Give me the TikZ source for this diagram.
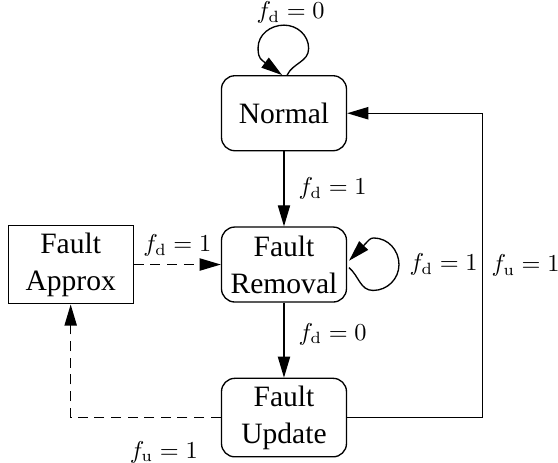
\documentclass[tikz,border=0pt]{standalone}
\usepackage{fontspec}
\newfontfamily\statefont{Liberation Serif}
\usetikzlibrary{positioning, arrows.meta}

\begin{document}
\begin{tikzpicture}[
    line width=0.6pt,                          % 線幅
    >={Triangle[length=9.5pt, width=5.5pt]},   % 塗りつぶし三角の矢じり
    node distance=1.186cm and 1.376cm,
    % 状態ノードのスタイル
    state_box/.style={
        draw, rounded corners=6pt,
        minimum width=1.977cm, minimum height=1.186cm,
        align=center, font=\statefont\fontsize{13.3}{16.6}\selectfont
    },
    approx_box/.style={state_box, sharp corners},
    cond_label/.style={font=\fontsize{10.5}{12}\selectfont},
    dashed_line/.style={dash pattern=on 4.5pt off 3pt}
]
    \useasboundingbox (-4.492, -3.124) rectangle (4.334, 4.184);

    % --- 1. 状態ノード ---
    \node [state_box] (removal) at (0, 0) {Fault\\Removal};
    \node [state_box, above=of removal] (normal) {Normal};
    \node [state_box, below=of removal] (update) {Fault\\Update};
    \node [approx_box, left=of removal] (approx) {Fault\\Approx};

    % --- 2. 自己ループ（矢じりの直前は直線にする） ---
    \begin{scope}[shift={(normal.north)}]
        \draw [->] (0.05, 0) to [out=65, in=-90] (0.39, 0.42)
            to [out=90, in=0] node [cond_label, pos=1, above=-3pt, xshift=3pt] (lbl_nn) {$f_{\mathrm{d}} = 0$} (0, 0.79)
            to [out=180, in=90] (-0.41, 0.43)
            to [out=-90, in=146] (-0.33, 0.22) -- (-0.03, 0);
    \end{scope}
    \begin{scope}[shift={(removal.east)}]
        \draw [->] (0.03, -0.05) to [out=-40, in=180] (0.41, -0.41)
            to [out=0, in=-90] node [cond_label, pos=1, right=1.2pt] (lbl_rr) {$f_{\mathrm{d}} = 1$} (0.82, 0)
            to [out=90, in=0] (0.42, 0.42)
            to [out=180, in=45] (0.29, 0.33) -- (0.03, 0.06);
    \end{scope}

    % --- 3. 状態遷移 ---
    \draw [->] (normal) -- node [cond_label, right=3pt] (lbl_nr) {$f_{\mathrm{d}} = 1$} (removal);
    \draw [->] (removal) -- node [cond_label, right=3pt, pos=0.42] (lbl_ru) {$f_{\mathrm{d}} = 0$} (update);
    \draw [->, dashed_line] (approx) -- node [cond_label, above] (lbl_ar) {$f_{\mathrm{d}} = 1$} (removal);

    % 右側の戻り線と左側の破線
    \draw [->] (update.east) -- ++(2.14, 0)
        |- node [cond_label, right=0.5pt, pos=0.25] (lbl_un) {$f_{\mathrm{u}} = 1$} (normal.east);
    \draw [->, dashed_line] (update.west)
        -| node [cond_label, below=7pt, pos=0.19] (lbl_ua) {$f_{\mathrm{u}} = 1$} (approx.south);

\end{tikzpicture}
\end{document}
